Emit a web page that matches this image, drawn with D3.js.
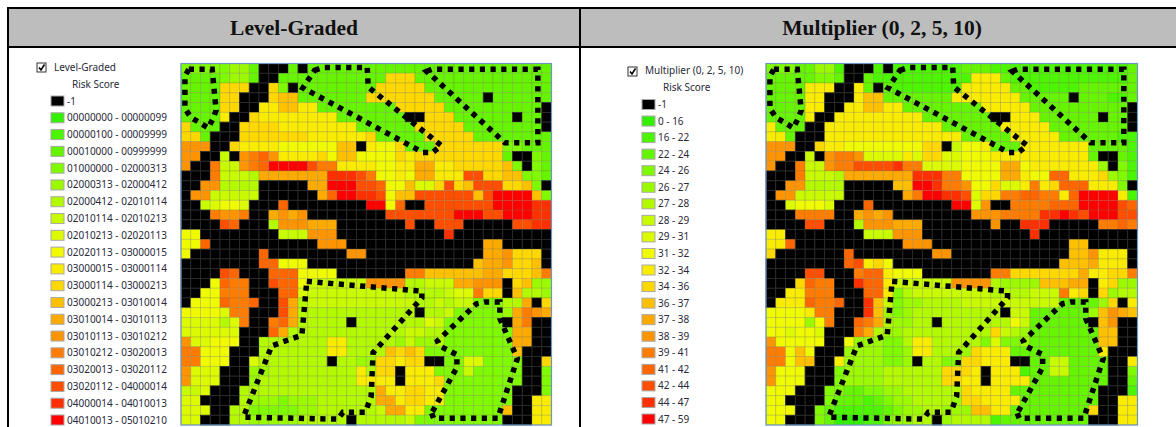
<!DOCTYPE html>
<html>
<head>
<meta charset="utf-8">
<script src="https://cdn.jsdelivr.net/npm/d3@7"></script>
<style>
    html, body { margin: 0; padding: 0; background: #fff; overflow: hidden; }
    svg { display: block; }
    .title { font-family: "Liberation Serif", serif; font-weight: bold; font-size: 21.5px; fill: #111; text-anchor: middle; }
    .legend-text { font-family: "Noto Sans", sans-serif; font-size: 10px; fill: #2a2a3a; }
</style>
</head>
<body>
<div id="chart"></div>
<script>
// class codes: '#' is -1, a..s follow the legend from first to last class
const classCodes = ['#','a','b','c','d','e','f','g','h','i','j','k','l','m','n','o','p','q','r','s'];
const classColors = ['#000000','#33f000','#4cf500','#66f500','#80fa00','#9cfa00','#b3fa00','#c8fa00','#dcfa00','#f0fa00','#f9ec00','#ffd800','#ffc000','#ffaa00','#ff9400','#ff7c00','#ff6600','#ff4e00','#ff3000','#ff0000'];

const levelLabels = ['-1','00000000 - 00000099','00000100 - 00009999','00010000 - 00999999','01000000 - 02000313','02000313 - 02000412','02000412 - 02010114','02010114 - 02010213','02010213 - 02020113','02020113 - 03000015','03000015 - 03000114','03000114 - 03000213','03000213 - 03010014','03010014 - 03010113','03010113 - 03010212','03010212 - 03020013','03020013 - 03020112','03020112 - 04000014','04000014 - 04010013','04010013 - 05010210'];
const multiplierLabels = ['-1','0 - 16','16 - 22','22 - 24','24 - 26','26 - 27','27 - 28','28 - 29','29 - 31','31 - 32','32 - 34','34 - 36','36 - 37','37 - 38','38 - 39','39 - 41','41 - 42','42 - 44','44 - 47','47 - 59'];

const levelRows = [
    'dddddeec##'+'#c#ccccccc'+'cccccccccc'+'cccccccc',
    'ccccdeec##'+'cccccccccc'+'ckkkcccccc'+'cccccccc',
    'cccckkk##k'+'d#cccccccc'+'kkkkkccccc'+'cccccccc',
    'cccckk###k'+'llccccccck'+'kkkkkkcccc'+'c#cccccc',
    'cccckk##jj'+'lljjcccccc'+'cckkkkkccc'+'ccccccc#',
    'ccccj##kjj'+'jjjjjjcccc'+'ccc##kkkcc'+'cccc#cc#',
    'kccc##kkkk'+'jjjjjjjjcc'+'cccckkkkkc'+'ccccccc#',
    'kkc###kkkk'+'kkkjjjjjjk'+'ccccckkkkk'+'cccccccc',
    'nnn##kjjjj'+'iiiiiill#j'+'iikccckkkk'+'kkkddccc',
    'nn##g#nopn'+'jjjjkillii'+'iikjkkkkkk'+'kkkc##dc',
    'n##oggnops'+'sssqoojjjj'+'iijjmmjjkk'+'kkkld#dc',
    '###ogggfmm'+'mmmmmrrrqo'+'iijimmjjjq'+'qkkllddc',
    '##nnffff##'+'###mmsssqq'+'piilhhkqkl'+'qqqkkld#',
    '#nnggggg##'+'####mpssrr'+'qillqqqqqq'+'lqssssld',
    '##ghiih###'+'p########s'+'sip##qqqqq'+'qqssssrr',
    '###onno##m'+'nmn#######'+'#qqqqqqqss'+'sqqsssrr',
    '####qp###f'+'nnnmmm####'+'###q##qqq#'+'####qqrr',
    'ii########'+'gggnnn####'+'#######r##'+'########',
    'iip#######'+'####nnn###'+'##########'+'#mm#####',
    'i#######p#'+'#######nn#'+'##########'+'#mmnkkk#',
    '########pp'+'iii#######'+'##########'+'lmmnkkl#',
    '####qp###p'+'ppiiii####'+'###oolllll'+'lmmkkklo',
    '###ipoo##q'+'ppiggggggn'+'nnnffgggmm'+'nnn#klee',
    '##iiooo###'+'pphggggggg'+'gggffffghh'+'okk#lffe',
    '#iiipoop##'+'qmfggggggg'+'ggggffgfgg'+'dddffm#k',
    'iiiihoo###'+'qmffffffff'+'ffff#ffgdd'+'dddemonm',
    'hhhhfho##o'+'pmfffff#ff'+'fffffhgddd'+'ddd#mo##',
    'hhhhhh###p'+'mfffffffff'+'fffggffddd'+'ddddmm##',
    'nhhiii##ff'+'fffffjjfff'+'ffegeefddd'+'ddddmm##',
    'ooiii###ff'+'fffffjjfff'+'flklkddddd'+'ddddl###',
    'ooiii##hff'+'fffff#ffee'+'kkjkk##ddh'+'hdddd##k',
    'nhhh###eef'+'ffffffffjf'+'kk#jjjdddg'+'ddddd##d',
    'nhhh###eff'+'ffffffffjj'+'jj#jjjkddd'+'ddddd##d',
    'ggh###ffff'+'ffffffffff'+'mjjkkjjddd'+'dddd###d',
    'hh####feee'+'deeeffffff'+'mmjkkjjddd'+'dddd##jj',
    'hhh##ffddd'+'ddeeffffff'+'gmmjjddddd'+'dddl##jj',
    'hh###ffeee'+'eefffff#ff'+'fffgdddddd'+'ddd###jj'
];

const multiplierRows = [
    'dddcceeb##'+'#b#bbbbbbb'+'cccbbbbbbb'+'bbbbbbbc',
    'cccccddc##'+'cbbbbbbbbb'+'bjjjcbbbbb'+'bbbbbbbc',
    'ccccjjj##j'+'c#cbbbbbbb'+'jjjjjccbbb'+'bbcccccc',
    'ccccjj###j'+'llcccccccj'+'jjjjjjcccc'+'c#cccbbc',
    'ccccjj##jj'+'lljjcccccc'+'ccjjjjjccc'+'ccccccc#',
    'ccccj##jjj'+'jjjjjjcccc'+'ccc##jjjcc'+'cccc#cc#',
    'jccc##jjjj'+'jjjjjjjjcc'+'ccccjjjjjc'+'ccccccc#',
    'jjc###jjjj'+'jjjjjjjjjj'+'cccccjjjjj'+'ccccccbb',
    'nnn##kjjii'+'iiiiiikk#g'+'iijcccjjjj'+'jjjccccb',
    'nn##g#noon'+'hhhhjhkkhh'+'iiijjjjjjj'+'jjjc##cb',
    'n##oggnooq'+'qqqroohhhh'+'iiiimmijjj'+'jjjje#db',
    '###ogggfmm'+'mmmmmrrroo'+'iiiimmjiip'+'pjjjkedb',
    '##nnffff##'+'###llssroo'+'niikhhjojk'+'pppjjjd#',
    '#nnggggg##'+'####mossrr'+'qhkkooppoo'+'jpssssjb',
    '##hiiih###'+'p########s'+'shn##oooop'+'ppssssqp',
    '###oooo##m'+'nmn#######'+'#nnnoooorr'+'srqsssqq',
    '####qq###f'+'nnnmmm####'+'###n##rrr#'+'####oopo',
    'jj########'+'gggnnn####'+'#######r##'+'########',
    'jjp#######'+'####nnn###'+'##########'+'#ll#####',
    'k#######p#'+'#######nn#'+'##########'+'#llnjjj#',
    '########pq'+'jki#######'+'##########'+'lllmjjj#',
    '####qq###o'+'ppjiii####'+'###ookkkkk'+'kkmjjkko',
    '###kpoo##r'+'ppjggggggn'+'nnnfeeeell'+'lmm#jkee',
    '##jjooo###'+'ppjdfggggg'+'gggffffggg'+'ojk#keff',
    '#jjjpoop##'+'rlgdeeffff'+'gggggggggg'+'ccccek#j',
    'iiiijoo###'+'rledefffff'+'ffff#ggccc'+'cccelnml',
    'iiiieio##p'+'omfeeff#ff'+'fffffigccc'+'ccc#ln##',
    'iihiih###o'+'mfeeffffff'+'fffkgfeccc'+'ccccll##',
    'niiiii##ie'+'eeddfjjfff'+'ffdhddeccc'+'ccccll##',
    'ooili###ee'+'eeddejjfff'+'ekjjjccccc'+'ccccj###',
    'ooill##jee'+'eedde#ffdd'+'kkjjj##ccg'+'gcccc##j',
    'niii###dee'+'eeffffffkk'+'kj#jjjbccg'+'gcccc##d',
    'niii###dee'+'eeffffffkk'+'jj#jjjjccc'+'ccccc##c',
    'iii###ddcc'+'ddeeffffff'+'kjjjjccccc'+'cccc###b',
    'ii####dccc'+'bcdeeffffe'+'kkjjjjcccc'+'cccc##jj',
    'iii##dcbbb'+'bbcdeeffee'+'elljjccccc'+'ccck##jj',
    'ii###dcaaa'+'bbdeeff#ef'+'fffbcccccc'+'ccc###jj'
];

// dotted outlines, in grid units (column, row)
const outlineA = [[0.8,0.6],[3.2,0.6],[3.6,4.8],[3.3,5.6],[2.8,6.6],[1,5.5],[0.4,4.6],[0.4,1.3]];
const outlineB = [[13.7,0.7],[14.6,0.4],[19.1,0.4],[19.2,2.4],[26.7,8.4],[25.8,9.1],[24.8,9.1],[12.5,2.5]];
const outlineC = [[25.2,0.8],[25.7,0.6],[36.6,0.6],[36.6,8.1],[33.2,8.1]];
const outlineD = [[12.9,22.3],[24.7,23.3],[24.7,24],[19.7,29.6],[19.5,34.1],[18.9,35.7],[16.6,35.7],[16.1,36.4],[6.4,36.2],[9.3,28.9],[12.4,27.8]];
const outlineE = [[25.7,35.8],[25.9,36.3],[32.5,36.3],[34.5,30.2],[32.7,26.1],[32.7,24.4],[31.2,24.4],[30.3,24.6],[26.3,28.4],[26.5,28.9],[28.3,29.8],[28.3,31.1]];
const outlines = [outlineA, outlineB, outlineC, outlineD, outlineE];

const svg = d3.select('#chart').append('svg').attr('width', 1176).attr('height', 427);

const colorScale = d3.scaleOrdinal().domain(classCodes).range(classColors);

// table frame and header, runs off the right side of the page
svg.append('rect').attr('x', 8).attr('y', 8).attr('width', 1168).attr('height', 39).attr('fill', '#bdbdbd');
svg.append('path')
    .attr('d', 'M8,427V8H1176M8,47H1176M580,8V427')
    .attr('fill', 'none').attr('stroke', '#000').attr('stroke-width', 2);

function drawPanel(opts) {
    svg.append('text').attr('class', 'title').attr('x', opts.titleX).attr('y', 35).text(opts.title);

    const nCols = opts.rows[0].length, nRows = opts.rows.length;
    const x = d3.scaleBand().domain(d3.range(nCols)).range(opts.xRange);
    const y = d3.scaleBand().domain(d3.range(nRows)).range([63.5, 425]);
    // outlines use grid units so need continuous scales as well
    const gx = d3.scaleLinear().domain([0, nCols]).range(opts.xRange);
    const gy = d3.scaleLinear().domain([0, nRows]).range([63.5, 425]);

    const g = svg.append('g');
    opts.rows.forEach((row, r) => {
        g.selectAll(null)
            .data(row.split(''))
            .join('rect')
            .attr('x', (d, c) => x(c))
            .attr('y', y(r))
            .attr('width', x.bandwidth())
            .attr('height', y.bandwidth())
            .attr('fill', d => colorScale(d))
            .attr('stroke', d => d === '#' ? '#2b2b2b' : 'rgba(110,110,70,0.3)')
            .attr('stroke-width', 0.8);
    });

    svg.append('rect')
        .attr('x', opts.xRange[0]).attr('y', 63.5)
        .attr('width', opts.xRange[1] - opts.xRange[0]).attr('height', 361.5)
        .attr('fill', 'none').attr('stroke', '#6a96c4').attr('stroke-width', 1.2);

    const line = d3.line().x(d => gx(d[0])).y(d => gy(d[1])).curve(d3.curveLinearClosed);
    svg.selectAll(null)
        .data(outlines)
        .join('path')
        .attr('d', line)
        .attr('fill', 'none')
        .attr('stroke', '#000')
        .attr('stroke-width', 5.5)
        .attr('stroke-dasharray', '5.2 5.5');

    // legend
    const lg = opts.legend;
    svg.append('rect').attr('x', lg.checkX).attr('y', lg.checkY).attr('width', 9).attr('height', 9)
        .attr('fill', '#fff').attr('stroke', '#333').attr('stroke-width', 1);
    svg.append('path')
        .attr('d', `M${lg.checkX + 2},${lg.checkY + 4.5}l2,2.5l3.5,-5.5`)
        .attr('fill', 'none').attr('stroke', '#000').attr('stroke-width', 1.6);
    svg.append('text').attr('class', 'legend-text').attr('x', lg.nameX).attr('y', lg.nameY).text(lg.name);
    svg.append('text').attr('class', 'legend-text').attr('x', lg.nameX + 18).attr('y', lg.nameY + 17).text('Risk Score');

    const ly = d3.scalePoint().domain(d3.range(opts.labels.length)).range(lg.yRange);
    svg.selectAll(null).data(opts.labels).join('rect')
        .attr('x', lg.swatchX).attr('y', (d, i) => ly(i) - 5)
        .attr('width', 13).attr('height', 10)
        .attr('fill', (d, i) => classColors[i])
        .attr('stroke', '#a8a8a8').attr('stroke-width', 1);
    svg.selectAll(null).data(opts.labels).join('text')
        .attr('class', 'legend-text')
        .attr('x', lg.swatchX + 16).attr('y', (d, i) => ly(i) + 3.5)
        .text(d => d);
}

drawPanel({
    title: 'Level-Graded', titleX: 294, rows: levelRows, labels: levelLabels, xRange: [181, 551.5],
    legend: { name: 'Level-Graded', nameX: 54, nameY: 71, checkX: 37, checkY: 63, swatchX: 51, yRange: [101, 420] }
});
drawPanel({
    title: 'Multiplier (0, 2, 5, 10)', titleX: 882, rows: multiplierRows, labels: multiplierLabels, xRange: [766, 1137.5],
    legend: { name: 'Multiplier (0, 2, 5, 10)', nameX: 645, nameY: 74, checkX: 628, checkY: 67, swatchX: 642, yRange: [104.5, 419] }
});
</script>
</body>
</html>
